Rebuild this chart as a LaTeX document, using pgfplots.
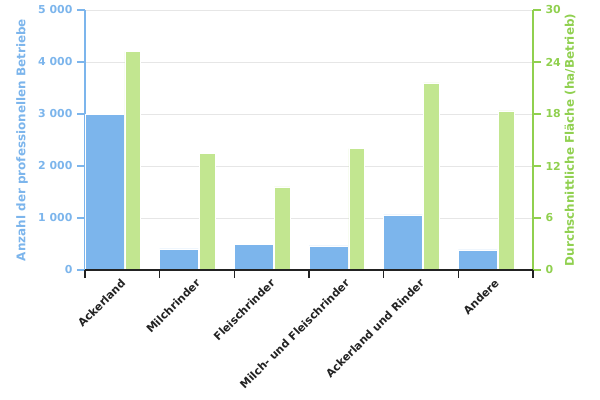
\documentclass[border=0pt]{standalone}
\usepackage{fontspec}
\setmainfont{DejaVu Sans}
\usepackage{pgfplots}
\pgfplotsset{compat=1.18}
\definecolor{cblue}{HTML}{7CB5EC}
\definecolor{cgreen}{HTML}{C2E690}
\definecolor{cgreenax}{HTML}{90D04F}
\definecolor{cgrid}{HTML}{E6E6E6}
\definecolor{ctext}{HTML}{222222}
\begin{document}
\begin{tikzpicture}
\pgfplotsset{
  base/.style={
    scale only axis, width=448bp, height=260bp,
    xmin=0, xmax=6,
    font=\fontsize{11}{13}\selectfont\bfseries,
    /pgf/number format/assume math mode=true,
    tick align=outside,
    major tick length=8bp,
    tick style={line width=1.5bp},
    clip=false,
  }
}
\begin{axis}[base,
  ymin=0, ymax=5000,
  axis y line*=left,
  axis x line=none,
  ytick={0,1000,2000,3000,4000,5000},
  yticklabels={0,1 000,2 000,3 000,4 000,5 000},
  yticklabel style={text=cblue, xshift=-1bp},
  ymajorgrids, grid style={cgrid, line width=0.8bp},
  y axis line style={draw=cblue, line width=1.5bp},
  ytick style={draw=cblue},
  ylabel={Anzahl der professionellen Betriebe},
  every axis y label/.style={at={(axis description cs:-0.1406,0.5)}, rotate=90, anchor=center, text=cblue, font=\fontsize{12}{14}\selectfont\bfseries},
]
\addplot[ybar, bar width=0.52, bar shift=0, fill=cblue, draw=white, line width=0.5bp]
  coordinates {(0.26,3000) (1.26,404) (2.26,500) (3.26,462) (4.26,1058) (5.26,385)};
\end{axis}
\begin{axis}[base,
  ymin=0, ymax=30,
  axis y line*=right,
  axis x line=none,
  ytick={0,6,12,18,24,30},
  yticklabel style={text=cgreenax, xshift=1bp},
  y axis line style={draw=cgreenax, line width=1.5bp},
  ytick style={draw=cgreenax},
  ylabel={Durchschnittliche Fläche (ha/Betrieb)},
  every axis y label/.style={at={(axis description cs:1.0826,0.5)}, rotate=90, anchor=center, text=cgreenax, font=\fontsize{12}{14}\selectfont\bfseries},
]
\addplot[ybar, bar width=0.21, bar shift=0, fill=cgreen, draw=white, line width=0.5bp]
  coordinates {(0.64,25.2) (1.64,13.5) (2.64,9.6) (3.64,14.0) (4.64,21.6) (5.64,18.35)};
\end{axis}
\begin{axis}[base,
  ymin=0, ymax=1,
  axis x line*=bottom,
  axis y line=none,
  x axis line style={draw=ctext, line width=1.8bp},
  xtick={0,1,2,3,4,5,6},
  xticklabels={},
  xtick style={draw=ctext, line width=1.5bp},
  extra x ticks={0.5,1.5,2.5,3.5,4.5,5.5},
  extra x tick labels={Ackerland,Milchrinder,Fleischrinder,Milch- und Fleischrinder,Ackerland und Rinder,Andere},
  extra x tick style={major tick length=0pt, xticklabel shift=8bp, xticklabel style={text=ctext, rotate=45, anchor=east, xshift=2bp, yshift=-3bp}},
]
\end{axis}
\pgfresetboundingbox
\path[use as bounding box] (-85bp,-130bp) rectangle (515bp,270bp);
\end{tikzpicture}
\end{document}
